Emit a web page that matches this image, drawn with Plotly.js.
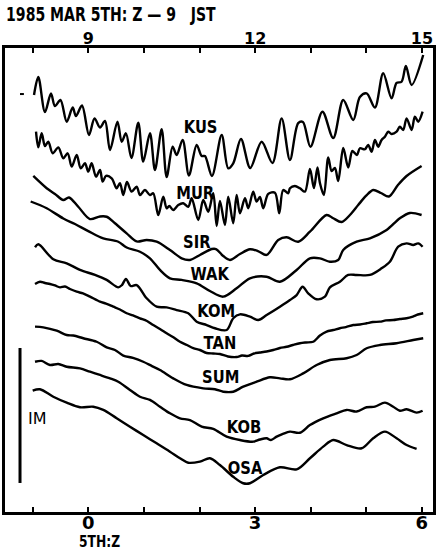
<!DOCTYPE html>
<html>
<head>
<meta charset="utf-8">
<script src="https://cdn.plot.ly/plotly-3.0.1.min.js"></script>
<style>
html,body{margin:0;padding:0;background:#fff;}
#chart{width:436px;height:551px;}
#chart .annotation:not([data-index="9"]) .annotation-text{
  transform-box:fill-box; transform-origin:center; transform:scaleX(0.82);
}
#chart .annotation[data-index="11"] .annotation-text{ transform-origin:left center; }
#chart .annotation[data-index="10"] .annotation-text{ transform-origin:left center; transform:scaleX(0.74); }
</style>
</head>
<body>
<div id="chart"></div>
<script>
// Time in hours (5th, Z); level in metres (stacked record positions)
const stations = ['KUS','MUR','SIR','WAK','KOM','TAN','SUM','KOB','OSA'];

const KUS_t = [-0.978,-0.901,-0.781,-0.673,-0.601,-0.502,-0.390,-0.282,-0.223,-0.115,0.011,0.110,0.209,0.299,0.389,0.523,0.599,0.676,0.775,0.898,0.987,1.108,1.198,1.318,1.408,1.516,1.588,1.696,1.809,1.948,2.038,2.097,2.223,2.398,2.516,2.606,2.745,2.912,3.117,3.311,3.477,3.626,3.775,3.860,3.995,4.211,4.405,4.585,4.765,4.885,5.006,5.155,5.304,5.455,5.545,5.635,5.712,5.815,6.024];
const KUS_h = [3.089,3.222,2.963,3.100,3.007,3.052,2.891,2.996,2.933,3.011,2.793,2.915,2.848,2.896,2.681,2.891,2.743,2.805,2.622,2.884,2.595,2.805,2.533,2.835,2.481,2.706,2.644,2.756,2.493,2.719,2.637,2.637,2.489,2.793,2.546,2.583,2.763,2.548,2.743,2.585,2.916,2.607,2.881,2.889,2.706,2.965,2.770,3.052,2.904,3.074,3.101,2.996,3.250,3.064,3.178,3.187,3.304,3.163,3.385];

const MUR_t = [-0.942,-0.901,-0.840,-0.781,-0.721,-0.642,-0.541,-0.451,-0.372,-0.300,-0.210,-0.138,-0.061,-0.002,0.059,0.137,0.209,0.257,0.317,0.419,0.509,0.568,0.628,0.694,0.779,0.869,0.928,1.018,1.108,1.167,1.257,1.347,1.408,1.455,1.527,1.617,1.707,1.797,1.858,1.977,2.067,2.157,2.246,2.308,2.367,2.457,2.516,2.606,2.667,2.727,2.817,2.876,2.966,3.027,3.086,3.146,3.236,3.356,3.434,3.505,3.595,3.626,3.716,3.806,3.896,3.986,4.058,4.121,4.166,4.237,4.315,4.376,4.435,4.495,4.585,4.675,4.750,4.831,4.885,4.975,5.034,5.096,5.155,5.214,5.275,5.335,5.394,5.455,5.545,5.604,5.664,5.725,5.815,5.874,5.934,6.013];
const MUR_h = [2.817,2.701,2.805,2.711,2.743,2.657,2.701,2.620,2.657,2.558,2.644,2.546,2.583,2.521,2.583,2.484,2.533,2.447,2.489,2.472,2.398,2.435,2.348,2.444,2.373,2.410,2.348,2.385,2.348,2.361,2.200,2.336,2.250,2.267,2.237,2.274,2.287,2.261,2.324,2.163,2.311,2.224,2.361,2.119,2.304,2.126,2.336,2.139,2.348,2.213,2.324,2.250,2.373,2.299,2.333,2.250,2.356,2.365,2.213,2.385,2.361,2.398,2.415,2.398,2.373,2.541,2.400,2.552,2.437,2.348,2.626,2.526,2.548,2.452,2.696,2.552,2.674,2.644,2.694,2.687,2.719,2.669,2.756,2.706,2.756,2.780,2.817,2.800,2.817,2.854,2.830,2.916,2.830,2.928,2.891,2.965];

const SIR_t = [-0.991,-0.750,-0.601,-0.451,-0.349,-0.182,0.029,0.209,0.329,0.478,0.689,0.869,1.049,1.228,1.468,1.678,1.827,2.007,2.218,2.295,2.426,2.547,2.727,2.907,3.050,3.207,3.416,3.567,3.775,3.986,4.286,4.405,4.556,4.705,4.854,4.993,5.124,5.263,5.407,5.569,5.725,5.995];
const SIR_h = [2.489,2.398,2.356,2.311,2.330,2.261,2.170,2.189,2.187,2.139,2.064,2.004,2.015,2.002,1.941,1.879,1.867,1.904,1.948,1.948,1.896,1.867,1.911,1.946,1.933,1.904,2.015,2.035,2.002,2.076,2.200,2.176,2.148,2.200,2.274,2.341,2.385,2.363,2.337,2.422,2.489,2.563];

const WAK_t = [-1.038,-0.750,-0.451,-0.241,-0.002,0.268,0.538,0.689,0.928,1.108,1.288,1.468,1.678,1.948,2.187,2.426,2.667,2.907,3.207,3.446,3.747,3.986,4.166,4.345,4.495,4.585,4.826,5.065,5.365,5.604,5.784,5.995];
const WAK_h = [2.300,2.250,2.174,2.133,2.081,2.027,2.002,1.959,1.928,1.879,1.793,1.731,1.719,1.694,1.637,1.595,1.657,1.731,1.743,1.706,1.793,1.879,1.879,1.854,1.867,1.941,2.002,2.027,2.089,2.176,2.215,2.200];

const KOM_t = [-0.960,-0.901,-0.631,-0.390,-0.151,0.119,0.329,0.538,0.604,0.676,0.761,0.869,1.049,1.228,1.408,1.588,1.797,1.948,2.128,2.277,2.487,2.606,2.727,2.907,3.056,3.207,3.446,3.626,3.747,3.854,3.955,4.106,4.256,4.345,4.525,4.675,4.826,5.065,5.275,5.424,5.574,5.725,5.844,5.934,6.013];
const KOM_h = [1.961,1.983,1.872,1.842,1.793,1.756,1.719,1.664,1.681,1.726,1.674,1.681,1.583,1.521,1.516,1.496,1.472,1.410,1.385,1.361,1.348,1.435,1.464,1.447,1.422,1.459,1.521,1.570,1.607,1.669,1.620,1.576,1.595,1.664,1.706,1.756,1.756,1.756,1.805,1.854,1.965,1.990,1.978,1.990,1.965];

const TAN_t = [-0.960,-0.871,-0.781,-0.691,-0.601,-0.511,-0.421,-0.331,-0.210,-0.097,0.029,0.209,0.317,0.448,0.568,0.689,0.802,0.928,1.054,1.167,1.288,1.408,1.522,1.648,1.773,1.887,2.007,2.128,2.246,2.367,2.511,2.667,2.763,2.876,2.979,3.086,3.207,3.326,3.446,3.567,3.680,3.806,3.914,4.045,4.166,4.286,4.405,4.525,4.633,4.765,4.885,5.006,5.119,5.245,5.353,5.484,5.604,5.725,5.838,5.928,6.024];
const TAN_h = [1.689,1.706,1.696,1.689,1.678,1.664,1.670,1.652,1.632,1.619,1.595,1.558,1.544,1.521,1.500,1.472,1.456,1.435,1.415,1.385,1.356,1.324,1.296,1.261,1.237,1.213,1.200,1.178,1.174,1.170,1.152,1.148,1.159,1.156,1.174,1.181,1.189,1.200,1.215,1.224,1.237,1.250,1.256,1.261,1.307,1.336,1.348,1.361,1.370,1.385,1.389,1.398,1.407,1.410,1.419,1.422,1.430,1.435,1.448,1.463,1.472];

const SUM_t = [-0.960,-0.811,-0.570,-0.390,-0.272,-0.092,0.149,0.329,0.478,0.628,0.802,0.987,1.144,1.288,1.527,1.768,2.067,2.277,2.426,2.606,2.786,3.027,3.266,3.446,3.626,3.865,4.106,4.345,4.646,4.826,5.006,5.245,5.545,5.844,6.024];
const SUM_h = [1.373,1.368,1.343,1.311,1.307,1.287,1.261,1.219,1.200,1.159,1.141,1.113,1.081,1.052,0.990,0.941,0.916,0.909,0.891,0.891,0.928,0.965,0.998,0.990,0.983,1.027,1.089,1.126,1.139,1.163,1.213,1.237,1.250,1.274,1.287];

const KOB_t = [-0.960,-0.840,-0.691,-0.541,-0.390,-0.151,0.029,0.209,0.389,0.538,0.748,0.928,1.108,1.288,1.468,1.648,1.827,2.038,2.246,2.487,2.727,2.966,3.086,3.207,3.284,3.387,3.500,3.626,3.806,3.986,4.225,4.466,4.646,4.826,5.006,5.155,5.335,5.484,5.604,5.725,5.905,6.013];
const KOB_h = [1.113,1.119,1.089,1.096,1.076,1.064,1.039,1.015,0.990,0.965,0.904,0.854,0.830,0.780,0.731,0.694,0.681,0.632,0.615,0.558,0.533,0.521,0.537,0.546,0.533,0.558,0.578,0.595,0.587,0.644,0.694,0.731,0.756,0.744,0.776,0.780,0.810,0.780,0.750,0.761,0.736,0.750];

const OSA_t = [-1.002,-0.871,-0.631,-0.390,-0.151,0.088,0.268,0.509,0.748,0.987,1.228,1.468,1.648,1.797,2.007,2.187,2.367,2.606,2.786,2.907,3.146,3.446,3.747,3.986,4.225,4.405,4.646,4.916,5.124,5.335,5.545,5.725,5.905];
const OSA_h = [0.899,0.909,0.854,0.810,0.776,0.780,0.756,0.694,0.632,0.570,0.509,0.447,0.398,0.365,0.373,0.398,0.348,0.261,0.213,0.213,0.274,0.331,0.316,0.398,0.484,0.533,0.496,0.472,0.546,0.595,0.546,0.496,0.467];

const zHours = [-1,0,1,2,3,4,5,6];
const zLabels = ['','0','','','3','','','6'];
const jstHours = [8,9,10,11,12,13,14,15];
const jstLabels = ['','9','','','12','','','15'];
const scaleBar = [0.215, 1.215]; // 1 m

const series = {KUS:[KUS_t,KUS_h],MUR:[MUR_t,MUR_h],SIR:[SIR_t,SIR_h],WAK:[WAK_t,WAK_h],KOM:[KOM_t,KOM_h],TAN:[TAN_t,TAN_h],SUM:[SUM_t,SUM_h],KOB:[KOB_t,KOB_h],OSA:[OSA_t,OSA_h]};

const FONT = '"DejaVu Sans", sans-serif';

const traces = stations.map(s => ({
  type:'scatter', mode:'lines', name:s,
  x: series[s][0], y: series[s][1],
  line:{color:'#000', width:2.4, shape:'spline', smoothing:0.9},
  hoverinfo:'skip', showlegend:false
}));
// scale bar
traces.push({type:'scatter', mode:'lines', x:[-1.23,-1.23], y:scaleBar,
  line:{color:'#000', width:3}, hoverinfo:'skip', showlegend:false});
// JST axis carrier
traces.push({type:'scatter', mode:'lines', x:[9,15], y:[null,null], xaxis:'x2', yaxis:'y',
  hoverinfo:'skip', showlegend:false});

const labelPos = {KUS:[2.025,2.859],MUR:[1.935,2.370],SIR:[1.953,2.007],WAK:[2.187,1.770],
  KOM:[2.295,1.496],TAN:[2.367,1.259],SUM:[2.385,1.007],KOB:[2.799,0.630],OSA:[2.817,0.333]};

const annotations = stations.map(s => ({
  x: labelPos[s][0], y: labelPos[s][1], xref:'x', yref:'y', text:s, showarrow:false,
  font:{family:FONT, size:18, color:'#000', weight:'bold'}
}));
annotations.push({x:-0.924, y:0.696, xref:'x', yref:'y', text:'IM', showarrow:false,
  font:{family:FONT, size:16, color:'#000'}});
annotations.push({x:0, xanchor:'left', y:1, yanchor:'bottom', xref:'paper', yref:'paper',
  yshift:21, xshift:-1, text:'1985 MAR 5TH: Z — 9&nbsp;&nbsp;&nbsp;JST', showarrow:false,
  font:{family:FONT, size:19, color:'#000', weight:'bold'}});
annotations.push({x:-0.21, xanchor:'left', y:0, yanchor:'top', xref:'x', yref:'paper',
  yshift:-19, text:'5TH:Z', showarrow:false,
  font:{family:FONT, size:15, color:'#000', weight:'bold'}});

const axisCommon = {
  showgrid:false, zeroline:false, showline:true, linecolor:'#000', linewidth:3,
  ticks:'inside', ticklen:5, tickwidth:2, tickcolor:'#000', tickmode:'array'
};

const layout = {
  width:436, height:551,
  margin:{l:5, r:3, t:48, b:39, pad:0},
  paper_bgcolor:'#fff', plot_bgcolor:'#fff',
  xaxis: Object.assign({}, axisCommon, {range:[-1.5,6.2], tickvals:zHours, ticktext:zLabels, side:'bottom',
    ticklabelstandoff:-8, tickfont:{family:FONT, size:18, color:'#000', weight:'bold'}}),
  xaxis2: Object.assign({}, axisCommon, {range:[7.5,15.2], tickvals:jstHours, ticktext:jstLabels, side:'top', overlaying:'x',
    ticklabelstandoff:-5, tickfont:{family:FONT, size:16, color:'#000', weight:'bold'}}),
  yaxis: {range:[0,3.437], showgrid:false, zeroline:false, showline:true, mirror:true,
    linecolor:'#000', linewidth:3, showticklabels:false, ticks:''},
  shapes:[{type:'line', xref:'x', yref:'y', x0:-1.23, x1:-1.16, y0:3.096, y1:3.096,
    line:{color:'#000', width:2}}],
  annotations: annotations
};

Plotly.newPlot('chart', traces, layout, {staticPlot:true, displayModeBar:false});
</script>
</body>
</html>
